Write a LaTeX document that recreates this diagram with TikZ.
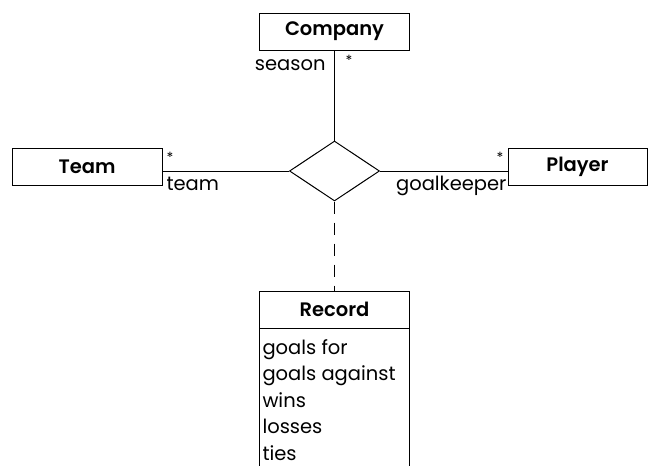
\documentclass[tikz,border=0pt]{standalone}
\usepackage{fontspec}
\setmainfont[BoldFont={Poppins SemiBold}]{Poppins}
\usetikzlibrary{shapes.geometric}
\begin{document}
\begin{tikzpicture}[x=1pt,y=-1pt,line width=1pt,
  entity/.style={draw,rectangle,minimum height=37pt,inner sep=0pt,
    font=\fontsize{19.5}{19.5}\selectfont\bfseries},
  relation/.style={draw,diamond,minimum width=90pt,minimum height=60pt,inner sep=0pt},
  role/.style={inner sep=0pt,font=\fontsize{19.5}{19.5}\selectfont},
  mult/.style={inner sep=0pt,font=\fontsize{14}{14}\selectfont},
  attr/.style={inner sep=0pt,anchor=base west,font=\fontsize{19.5}{19.5}\selectfont}]
\useasboundingbox (0,0) rectangle (649,466);
\clip (0,0) rectangle (649,466);

% entities
\node[entity,minimum width=150pt] (company) at (334.5,31.5) {Company};
\node[entity,minimum width=150pt] (team) at (87,167) {Team};
\node[entity,minimum width=139pt] (player) at (577.5,167) {Player};
\node[relation] (rel) at (334.5,171) {};

% association class Record
\node[entity,minimum width=150pt] (record) at (334.5,309.5) {Record};
\draw (record.south west) rectangle ++(150,160);
\node[attr] (a1) at (262,354) {goals for};
\node[attr] (a2) at (262,380.5) {goals against};
\node[attr] (a3) at (262,407) {wins};
\node[attr] (a4) at (262,433.5) {losses};
\node[attr] (a5) at (262,460) {ties};

% connectors
\draw (company.south) -- (rel.north);
\draw (team.east |- rel.west) -- (rel.west);
\draw (rel.east) -- (player.west |- rel.east);
\draw[dash pattern=on 12pt off 9pt] (rel.south) -- (record.north);

% role names and multiplicities
\node[role,anchor=base east] (season) at (326,70) {season};
\node[mult] (mcompany) at (349,60) {*};
\node[role,anchor=base west] (rteam) at (166,190) {team};
\node[mult] (mteam) at (170,157) {*};
\node[role,anchor=base east] (rplayer) at (507,190) {goalkeeper};
\node[mult] (mplayer) at (500,157) {*};
\end{tikzpicture}
\end{document}
